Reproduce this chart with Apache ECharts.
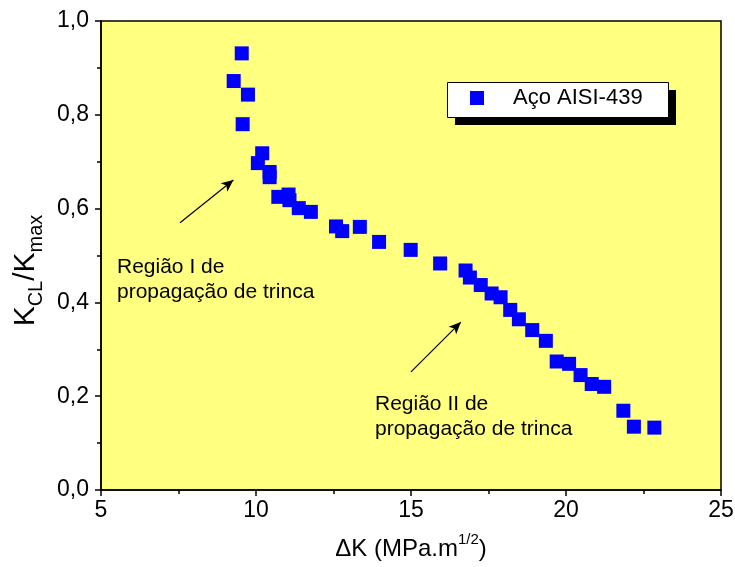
<!doctype html>
<html>
<head>
<meta charset="utf-8">
<title>Aço AISI-439</title>
<script src="https://cdn.jsdelivr.net/npm/echarts@6/dist/echarts.min.js"></script>
<style>
  html, body { margin: 0; padding: 0; background: #fff; }
  #chart { width: 735px; height: 567px; }
</style>
</head>
<body>
<div id="chart"></div>
<script>
// valores
var deltaK = [9.28, 9.54, 9.57, 9.74, 10.06, 10.2, 10.44, 10.44, 10.72, 11.05, 11.08, 11.38,
              11.77, 12.58, 12.78, 13.35, 13.97, 14.99, 15.94, 16.76, 16.9, 17.25, 17.6, 17.89,
              18.2, 18.48, 18.91, 19.35, 19.7, 20.1, 20.47, 20.83, 21.23, 21.85, 22.19, 22.85];
var kclKmax = [0.872, 0.931, 0.780, 0.843, 0.697, 0.718, 0.678, 0.667, 0.625, 0.630, 0.618, 0.601,
               0.593, 0.562, 0.552, 0.561, 0.529, 0.512, 0.483, 0.468, 0.453, 0.437, 0.419, 0.411,
               0.384, 0.364, 0.341, 0.318, 0.274, 0.269, 0.245, 0.226, 0.220, 0.169, 0.135, 0.133];
var serieNome = 'Aço AISI-439';
// setas: [inicio, ponta] em coordenadas dos eixos
var seta1 = [[7.55, 0.570], [9.27, 0.661]];
var seta2 = [[15.0, 0.252], [16.61, 0.358]];

var fonte = 'Liberation Sans';
var pontos = deltaK.map(function (x, i) { return [x, kclKmax[i]]; });

var myChart = echarts.init(document.getElementById('chart'));
var option = {
    animation: false,
    backgroundColor: '#fff',
    textStyle: { fontFamily: fonte, color: '#000' },
    grid: {
        left: 101, right: 14, top: 21, bottom: 77,
        containLabel: false,
        outerBoundsMode: 'none',
        show: true,
        backgroundColor: '#FFFF80',
        borderColor: '#000',
        borderWidth: 1.5
    },
    legend: {
        data: [serieNome],
        left: 470, top: 87,
        z: 10,
        icon: 'rect',
        itemWidth: 14, itemHeight: 14,
        padding: 0,
        textStyle: { fontFamily: fonte, fontSize: 22, color: '#000', padding: [0, 0, 0, 24] }
    },
    xAxis: {
        type: 'value',
        min: 5, max: 25, interval: 5,
        name: 'ΔK (MPa.m{sup|1/2})',
        nameLocation: 'middle',
        nameGap: 42,
        nameTextStyle: {
            fontFamily: fonte, fontSize: 24, color: '#000', lineHeight: 34,
            rich: { sup: { fontFamily: fonte, fontSize: 15, lineHeight: 18, verticalAlign: 'top', color: '#000' } }
        },
        axisLine: { lineStyle: { color: '#000', width: 1.5 } },
        axisTick: { inside: false, length: 6, lineStyle: { color: '#000', width: 1.5 } },
        minorTick: { show: true, splitNumber: 2, length: 4, lineStyle: { color: '#000', width: 1.5 } },
        axisLabel: { fontFamily: fonte, fontSize: 23, color: '#000', margin: 9 },
        splitLine: { show: false }
    },
    yAxis: {
        type: 'value',
        min: 0, max: 1, interval: 0.2,
        name: 'K{sub|CL}/K{sub|max}',
        nameLocation: 'middle',
        nameRotate: 90,
        nameGap: 51,
        nameTextStyle: {
            fontFamily: fonte, fontSize: 30, color: '#000', lineHeight: 40,
            padding: [0, 30, 0, 0],
            rich: { sub: { fontFamily: fonte, fontSize: 20, lineHeight: 19, verticalAlign: 'bottom', color: '#000' } }
        },
        axisLine: { lineStyle: { color: '#000', width: 1.5 } },
        axisTick: { inside: false, length: 6, lineStyle: { color: '#000', width: 1.5 } },
        minorTick: { show: true, splitNumber: 2, length: 4, lineStyle: { color: '#000', width: 1.5 } },
        axisLabel: {
            fontFamily: fonte, fontSize: 23, color: '#000', margin: 12,
            formatter: function (v) { return v.toFixed(1).replace('.', ','); }
        },
        splitLine: { show: false }
    },
    graphic: [
        // caixa da legenda com sombra
        {
            type: 'rect', left: 455, top: 90, z: 5, silent: true,
            shape: { width: 221, height: 35 },
            style: { fill: '#000' }
        },
        {
            type: 'rect', left: 447, top: 82, z: 6, silent: true,
            shape: { width: 221, height: 35 },
            style: { fill: '#fff', stroke: '#000', lineWidth: 1 }
        },
        {
            type: 'text', left: 117, top: 255, silent: true,
            style: { text: 'Região I de\npropagação de trinca', font: '21px "Liberation Sans"', fill: '#000', lineHeight: 25 }
        },
        {
            type: 'text', left: 375, top: 392, silent: true,
            style: { text: 'Região II de\npropagação de trinca', font: '21px "Liberation Sans"', fill: '#000', lineHeight: 25 }
        }
    ],
    series: [
        {
            name: serieNome,
            type: 'scatter',
            symbol: 'rect',
            symbolSize: 14,
            itemStyle: { color: '#0000FF', opacity: 1 },
            data: pontos,
            markLine: {
                silent: true,
                symbol: ['none', 'arrow'],
                symbolSize: [8, 12],
                label: { show: false },
                lineStyle: { color: '#000', width: 1.2, type: 'solid' },
                data: [
                    [{ coord: seta1[0] }, { coord: seta1[1] }],
                    [{ coord: seta2[0] }, { coord: seta2[1] }]
                ]
            }
        }
    ]
};
myChart.setOption(option);
</script>
</body>
</html>
